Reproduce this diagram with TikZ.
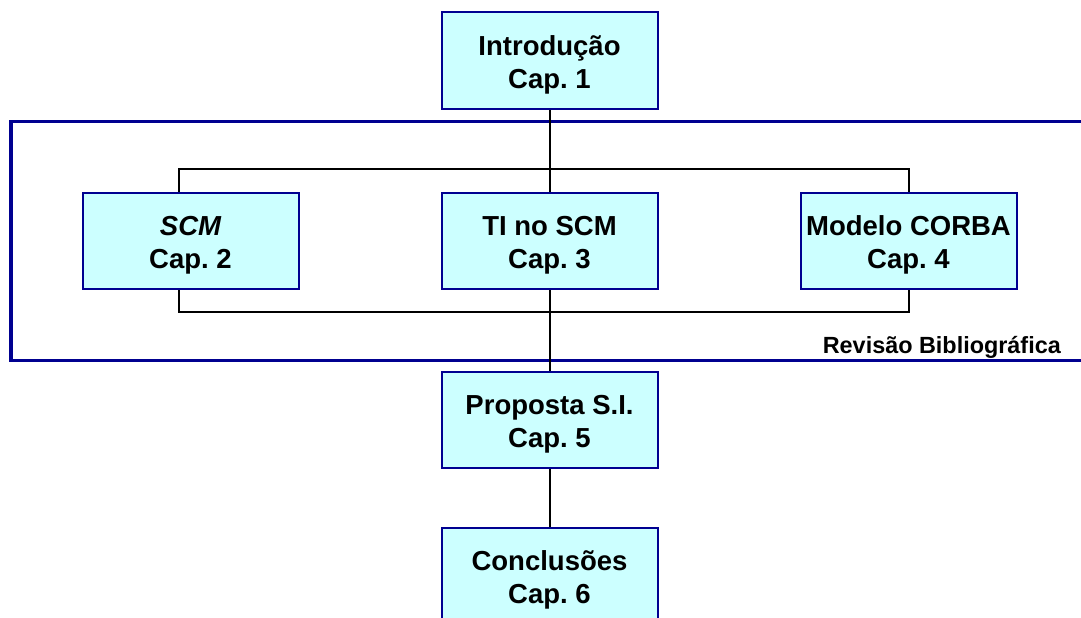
\documentclass[tikz,border=0pt]{standalone}
\usepackage{fontspec}
\setmainfont{Liberation Sans}
\frenchspacing
\definecolor{boxfill}{HTML}{CCFFFF}
\definecolor{navyline}{HTML}{000090}
\begin{document}
\begin{tikzpicture}[x=1pt,y=-1pt,
  chapbox/.style={draw=navyline, line width=2pt, fill=boxfill, rectangle,
    minimum width=216pt, minimum height=96pt, inner sep=0pt},
  chaptext/.style={inner sep=0pt, align=center, yshift=-4pt,
    font=\fontsize{27.5}{33}\selectfont\bfseries},
  link/.style={draw=black, line width=2pt},
  frameline/.style={draw=navyline, line width=3.3pt}]
\useasboundingbox (0,0) rectangle (1081,618);
\fill[white] (0,0) rectangle (1081,618);

% grouping frame for the literature review chapters
\draw[frameline] (1100,121.5) -- (11,121.5) -- (11,360.5) -- (1100,360.5);
\node[anchor=east, font=\fontsize{23.4}{26}\selectfont\bfseries, inner sep=0pt]
  (rev) at (1061,347) {Revisão Bibliográfica};

% chapter boxes
\node[chapbox] (intro) at (549.5,60.5) {};
\node[chapbox] (scm)   at (190.5,241) {};
\node[chapbox] (ti)    at (549.5,241) {};
\node[chapbox] (corba) at (908.5,241) {};
\node[chapbox] (prop)  at (549.5,420) {};
\node[chapbox] (conc)  at (549.5,576) {};

% chapter titles
\node[chaptext] (introT) at (intro.center) {Introdução\\Cap. 1};
\node[chaptext] (scmT)   at (scm.center)   {\itshape SCM\\Cap. 2};
\node[chaptext] (tiT)    at (ti.center)    {TI no SCM\\Cap. 3};
\node[chaptext] (corbaT) at (corba.center) {Modelo CORBA\\Cap. 4};
\node[chaptext] (propT)  at (prop.center)  {Proposta S.I.\\Cap. 5};
\node[chaptext] (concT)  at (conc.center)  {Conclusões\\Cap. 6};

% bracket corners
\coordinate (tl) at (179,169);
\coordinate (tr) at (909,169);
\coordinate (bl) at (179,312);
\coordinate (br) at (909,312);

% connectors
\draw[link] (intro.south) -- (ti.north);
\draw[link] (scm.north -| tl) -- (tl) -- (tr) -- (corba.north -| tr);
\draw[link] (scm.south -| bl) -- (bl) -- (br) -- (corba.south -| br);
\draw[link] (ti.south) -- (prop.north);
\draw[link] (prop.south) -- (conc.north);
\end{tikzpicture}
\end{document}
